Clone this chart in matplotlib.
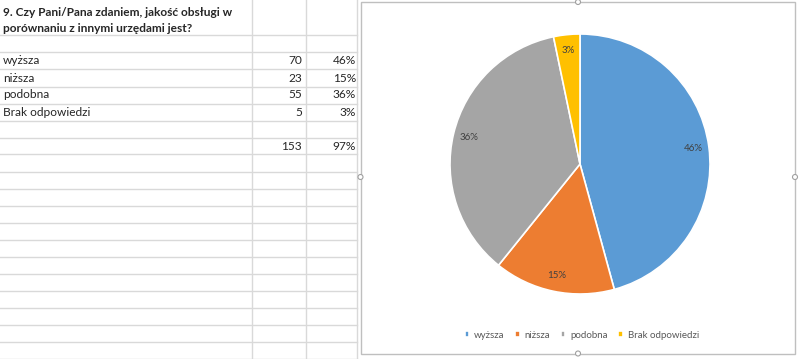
import matplotlib
matplotlib.use('Agg')
import matplotlib.pyplot as plt
from matplotlib.patches import Rectangle, Circle

# data from the sheet
title_lines = ['9. Czy Pani/Pana zdaniem, jakość obsługi w',
               'porównaniu z innymi urzędami jest?']
categories = ['wyższa', 'niższa', 'podobna', 'Brak odpowiedzi']
counts = [70, 23, 55, 5]
pct_labels = ['46%', '15%', '36%', '3%']
total_count = 153
total_pct = '97%'
colors = ['#5B9BD5', '#ED7D31', '#A5A5A5', '#FFC000']

plt.rcParams['font.family'] = ['Lato', 'DejaVu Sans']

W, H = 799, 359
fig = plt.figure(figsize=(W / 100, H / 100), dpi=100)
fig.patch.set_facecolor('white')

# sheet background in pixel coordinates
bg = fig.add_axes([0, 0, 1, 1])
bg.set_xlim(0, W)
bg.set_ylim(H, 0)
bg.axis('off')

grid_c = '#d9d9d9'
row_lines = [35, 52, 69, 86.5, 103.5, 120.5, 137.5, 154, 171.5, 188.5, 205.5,
             222.5, 239.5, 256.5, 273.5, 290.5, 307.5, 324.5, 341.5, 358.5]
for y in row_lines:
    bg.plot([0, 357], [y, y], color=grid_c, lw=1)
for x in [251.5, 306, 357]:
    bg.plot([x, x], [0, H], color=grid_c, lw=1)

txt_c = '#262626'
fs = 8.6
bg.text(3, 12, title_lines[0], fontsize=fs, fontweight='bold', color=txt_c, va='center')
bg.text(3, 29, title_lines[1], fontsize=fs, fontweight='bold', color=txt_c, va='center')

row_y = [61, 78, 95, 112]
for y, cat, n, p in zip(row_y, categories, counts, pct_labels):
    bg.text(3, y, cat, fontsize=fs, color=txt_c, va='center')
    bg.text(302, y, str(n), fontsize=fs, color=txt_c, va='center', ha='right')
    bg.text(356, y, p, fontsize=fs, color=txt_c, va='center', ha='right')
bg.text(302, 146, str(total_count), fontsize=fs, color=txt_c, va='center', ha='right')
bg.text(356, 146, total_pct, fontsize=fs, color=txt_c, va='center', ha='right')

# chart area frame
bg.add_patch(Rectangle((360.5, 2), 434.5, 351.5, facecolor='white',
                       edgecolor='#bfbfbf', lw=1, zorder=3))
for hx, hy in [(360.5, 177), (578, 353.5), (578, 2), (795, 177)]:
    bg.add_patch(Circle((hx, hy), 2.5, facecolor='white', edgecolor='#a0a0a0',
                        lw=0.8, zorder=4))

# pie: center (580,164), radius 130 px
cx, cy, r = 580, 164, 130
ax = fig.add_axes([(cx - r) / W, 1 - (cy + r) / H, 2 * r / W, 2 * r / H])
wedges, _, autotexts = ax.pie(counts, colors=colors, startangle=90, counterclock=False,
                              autopct='%.0f%%', pctdistance=0.88,
                              wedgeprops=dict(edgecolor='white', linewidth=1.2),
                              textprops=dict(fontsize=7, color='#404040'))
ax.set_xlim(-1, 1)
ax.set_ylim(-1, 1)
ax.set_aspect('equal')
ax.set_zorder(5)

leg = fig.legend(wedges, categories, loc='center', bbox_to_anchor=(582 / W, 1 - 335 / H),
                 ncol=4, frameon=False, fontsize=7, handlelength=0.45, handleheight=0.45,
                 handletextpad=0.5, columnspacing=1.1, labelcolor='#595959')

fig.savefig('out.png', dpi=100, facecolor='white')
